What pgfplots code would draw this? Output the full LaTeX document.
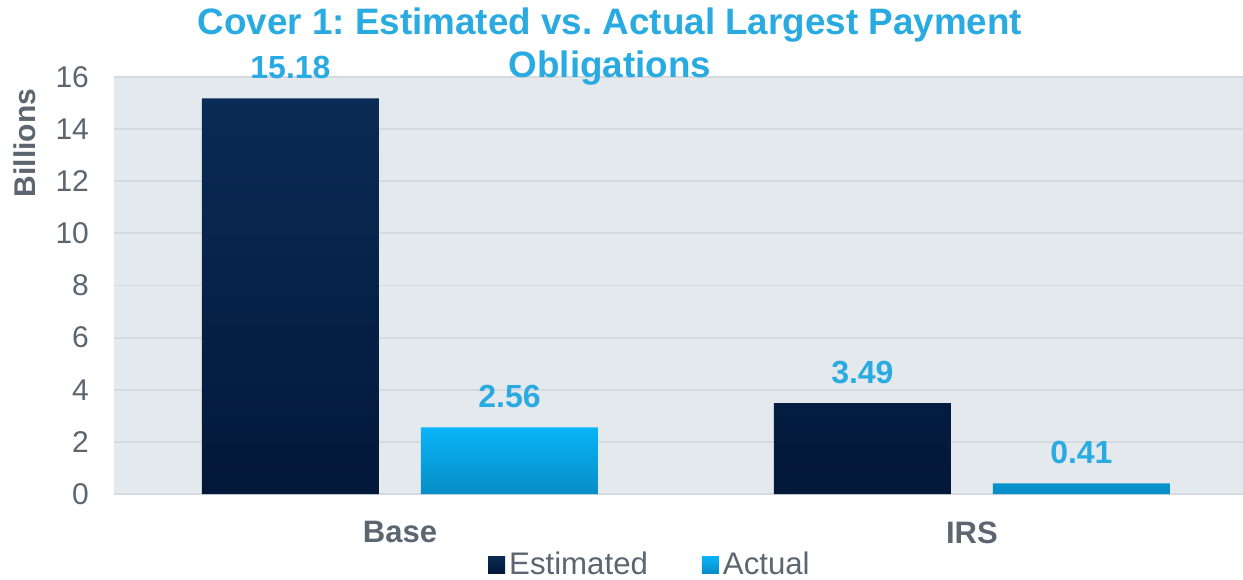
\documentclass[border=0pt]{standalone}
\usepackage{fontspec}
\setmainfont{Liberation Sans}
\usepackage{pgfplots}
\pgfplotsset{compat=1.18}
\frenchspacing

\definecolor{navytop}{HTML}{0A2B55}
\definecolor{navybot}{HTML}{03183A}
\definecolor{skytop}{HTML}{09B4F8}
\definecolor{skybot}{HTML}{078DC6}
\definecolor{titleblue}{HTML}{29ABE2}
\definecolor{txtgray}{HTML}{5B6670}
\definecolor{plotbg}{HTML}{E4E9EE}
\definecolor{gridc}{HTML}{D4DAE0}

\begin{document}
\begin{tikzpicture}
\begin{axis}[
    name=ax,
    scale only axis,
    width=564.5pt, height=208.5pt,
    ybar=21pt, bar width=88.5pt,
    xmin=-0.5, xmax=1.474,
    ymin=0, ymax=16,
    xtick={0,1}, xticklabels={Base,IRS},
    ytick={0,2,...,16},
    axis line style={draw=none},
    tick style={draw=none},
    axis background/.style={fill=plotbg},
    ymajorgrids,
    grid style={gridc, line width=0.9pt},
    /pgf/number format/assume math mode=true,
    yticklabel style={font=\fontsize{15}{18}\selectfont, text=txtgray, xshift=-9pt},
    xticklabel style={font=\bfseries\fontsize{15.5}{18}\selectfont, text=txtgray, yshift=-6pt},
    nodes near coords={\pgfmathprintnumber[fixed,precision=2,fixed zerofill]{\pgfplotspointmeta}},
    nodes near coords style={font=\bfseries\fontsize{16}{19}\selectfont, text=titleblue, yshift=6pt},
    legend columns=2,
    legend style={at={(0.4756,-0.1700)}, anchor=center, draw=none, fill=none,
        font=\fontsize{15.6}{18}\selectfont, text=txtgray,
        /tikz/every even column/.append style={column sep=25pt}},
    legend image code/.code={\draw[#1,draw=none] (0pt,-4.25pt) rectangle (8.5pt,4.25pt);},
]
\addplot[draw=none, top color=navytop, bottom color=navybot] coordinates {(0,15.18) (1,3.49)};
\addplot[draw=none, top color=skytop, bottom color=skybot] coordinates {(0,2.56) (1,0.41)};
\legend{Estimated, Actual}
\end{axis}
\pgfresetboundingbox
\path[use as bounding box] ([shift={(-57pt,-42.5pt)}]ax.south west) rectangle ++(621.5pt,289.5pt);
\coordinate (O) at ([shift={(-57pt,247pt)}]ax.south west);
\begin{scope}[shift={(O)}, x=0.5pt, y=-0.5pt]
\node[anchor=base, font=\bfseries\fontsize{18.4}{22}\selectfont, text=titleblue, inner sep=0pt] at (610,35) {Cover 1: Estimated vs. Actual Largest Payment};
\node[anchor=base, font=\bfseries\fontsize{18.4}{22}\selectfont, text=titleblue, inner sep=0pt] at (610,78) {Obligations};
\node[rotate=90, font=\bfseries\fontsize{15}{18}\selectfont, text=txtgray] at (25,143) {Billions};
\end{scope}
\end{tikzpicture}
\end{document}
